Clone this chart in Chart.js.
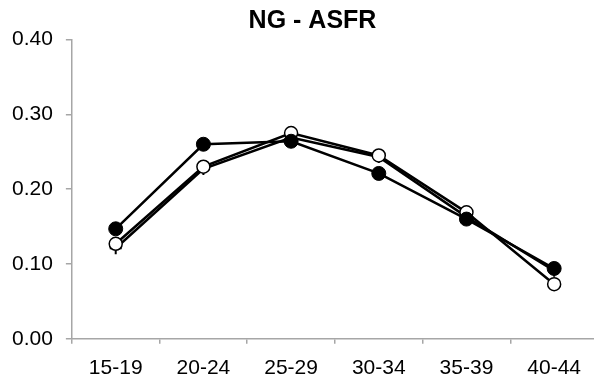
<!DOCTYPE html>
<html>
<head>
<meta charset="utf-8">
<script src="https://cdn.jsdelivr.net/npm/chart.js@4/dist/chart.umd.min.js"></script>
<style>
html,body{margin:0;padding:0;background:#fff;overflow:hidden;width:594px;height:375px;}
canvas{display:block;}
</style>
</head>
<body>
<canvas id="c" width="625" height="393"></canvas>
<script>
const categories = ['15-19','20-24','25-29','30-34','35-39','40-44'];
const seriesFilled = [0.147, 0.260, 0.264, 0.221, 0.160, 0.094];
const seriesOpen   = [0.127, 0.230, 0.275, 0.245, 0.169, 0.073];
const seriesCross  = [0.121, 0.227, 0.269, 0.243, 0.163, 0.091];
const yTicks = [0.00, 0.10, 0.20, 0.30, 0.40];
const title = 'NG - ASFR';

const axisGray = '#a6a6a6';
const font = {family: "'Liberation Sans', Arial, sans-serif", size: 21};

const titleShift = {
  id: 'titleShift',
  afterLayout(chart) {
    const t = chart.titleBlock;
    if (t) { t.left = 27; t.right = chart.chartArea.right; }
  }
};

new Chart(document.getElementById('c'), {
  type: 'line',
  data: {
    labels: categories,
    datasets: [
      {data: seriesFilled, borderColor:'#000', backgroundColor:'#000', borderWidth:2.5,
       pointStyle:'circle', pointRadius:7, pointBackgroundColor:'#000', pointBorderColor:'#000', pointBorderWidth:1, tension:0},
      {data: seriesOpen, borderColor:'#000', backgroundColor:'#fff', borderWidth:2.5,
       pointStyle:'circle', pointRadius:6.5, pointBackgroundColor:'#fff', pointBorderColor:'#000', pointBorderWidth:1.5, tension:0},
      {data: seriesCross, borderColor:'#000', backgroundColor:'#000', borderWidth:2.5,
       pointStyle:'cross', pointRadius:6, pointBorderColor:'#000', pointBorderWidth:2, tension:0}
    ]
  },
  plugins: [titleShift],
  options: {
    responsive:false, devicePixelRatio:1, animation:false,
    layout:{padding:{left:-1, right:27, top:0, bottom:0}},
    plugins:{
      legend:{display:false}, tooltip:{enabled:false},
      title:{display:true, text:title, color:'#000',
        font:{family:"'Liberation Sans', Arial, sans-serif", size:25, weight:'bold'},
        padding:{top:6, bottom:3.5}}
    },
    scales:{
      x:{
        offset:true,
        grid:{offset:true, drawOnChartArea:false, drawTicks:true, tickLength:5, color:axisGray, lineWidth:1.5},
        border:{display:true, color:axisGray, width:1.5},
        ticks:{color:'#000', font:font, padding:12, maxRotation:0}
      },
      y:{
        min:0, max:0.4,
        afterBuildTicks:(s)=>{ s.ticks = yTicks.map(v=>({value:v})); },
        grid:{drawOnChartArea:false, drawTicks:true, tickLength:6, color:axisGray, lineWidth:1.5},
        border:{display:true, color:axisGray, width:1.5},
        ticks:{color:'#000', font:font, padding:13, callback:(v)=>Number(v).toFixed(2)}
      }
    }
  }
});
</script>
</body>
</html>
